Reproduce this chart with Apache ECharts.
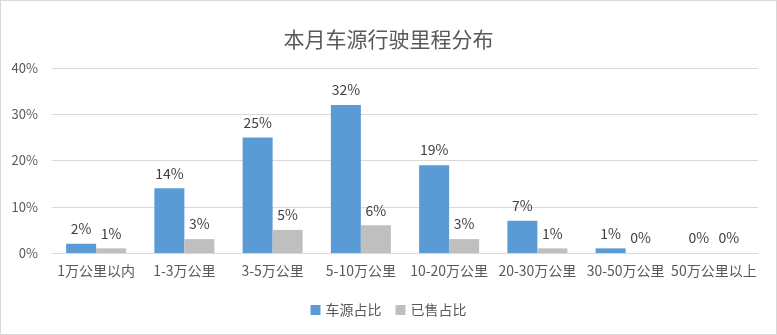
<!DOCTYPE html>
<html><head><meta charset="utf-8">
<script src="https://cdn.jsdelivr.net/npm/echarts@6/dist/echarts.min.js"></script>
<style>html,body{margin:0;padding:0;background:#fff}#c{width:775px;height:333px;border:1px solid #d9d9d9}</style>
</head><body><div id="c"></div>
<script>
const title = '本月车源行驶里程分布';
const categories = ['1万公里以内','1-3万公里','3-5万公里','5-10万公里','10-20万公里','20-30万公里','30-50万公里','50万公里以上'];
const seriesNames = ['车源占比','已售占比'];
const supplyShare = [2,14,25,32,19,7,1,0];
const soldShare = [1,3,5,6,3,1,0,0];
const yTicks = {min:0,max:40,interval:10};

const font = '"Noto Sans CJK SC", "Microsoft YaHei", sans-serif';
const chart = echarts.init(document.getElementById('c'));
const lbl = {show:true,position:'top',formatter:'{c}%',color:'#404040',fontSize:14,fontFamily:font,distance:8};
chart.setOption({
  animation:false,
  title:{text:title,left:'center',top:23,textStyle:{fontSize:21,fontWeight:'normal',color:'#595959',fontFamily:font}},
  legend:{data:seriesNames,bottom:12,left:'center',itemWidth:10,itemHeight:10,itemGap:14,icon:'rect',
    textStyle:{fontSize:14,color:'#595959',fontFamily:font}},
  grid:{left:51,right:18,top:67,bottom:81,containLabel:false},
  xAxis:{type:'category',data:categories,axisTick:{show:false},
    axisLine:{lineStyle:{color:'#d9d9d9'}},
    axisLabel:{color:'#595959',fontSize:14,fontFamily:font,margin:11,interval:0}},
  yAxis:{type:'value',min:yTicks.min,max:yTicks.max,interval:yTicks.interval,
    axisLabel:{formatter:'{value}%',color:'#595959',fontSize:13,fontFamily:font,margin:14},
    splitLine:{lineStyle:{color:'#d9d9d9'}},axisLine:{show:false},axisTick:{show:false}},
  series:[
    {name:seriesNames[0],type:'bar',data:supplyShare,itemStyle:{color:'#5B9BD5'},barGap:'0%',barCategoryGap:'32%',label:lbl},
    {name:seriesNames[1],type:'bar',data:soldShare,itemStyle:{color:'#BFBFBF'},label:lbl}
  ]
});
</script></body></html>
